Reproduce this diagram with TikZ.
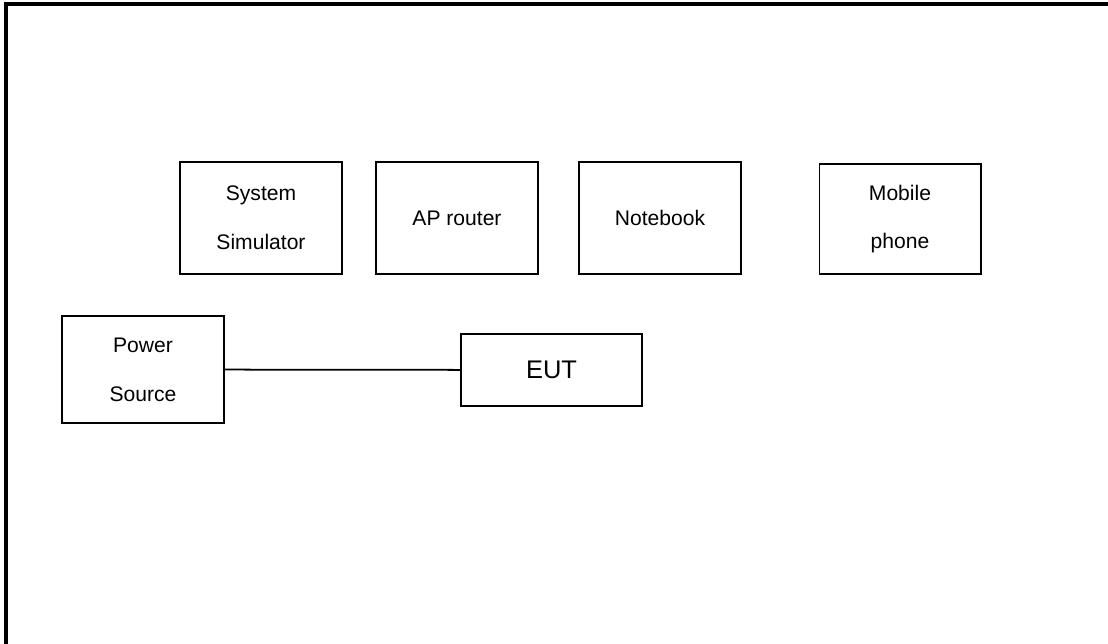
\documentclass[tikz,border=0pt]{standalone}
\usepackage{fontspec}
\setmainfont{Liberation Sans}

\begin{document}
\begin{tikzpicture}[x=0.02cm, y=-0.02cm,
  dev/.style={draw, line width=0.6pt, minimum width=3.24cm, minimum height=2.24cm, align=center, inner sep=0pt, font=\fontsize{12}{27.8}\selectfont}]
\useasboundingbox (0,0) rectangle (1108,644);
\draw[line width=1.8pt] (6,644) -- (6,4) -- (1108,4);

\node[dev] (sim) at (261,218) {System\\Simulator};
\node[dev] (ap) at (457,218) {AP router};
\node[dev] (nb) at (660,218) {Notebook};
\node[dev, minimum height=2.2cm] (mob) at (900,219) {Mobile\\phone};
\node[dev, minimum height=2.14cm] (pwr) at (143,369.5) {Power\\Source};
\node[dev, minimum width=3.62cm, minimum height=1.44cm, font=\fontsize{14.5}{17}\selectfont] (eut) at (551.5,370) {EUT};

\draw[line width=1pt] (pwr) -- (eut);
\end{tikzpicture}
\end{document}
